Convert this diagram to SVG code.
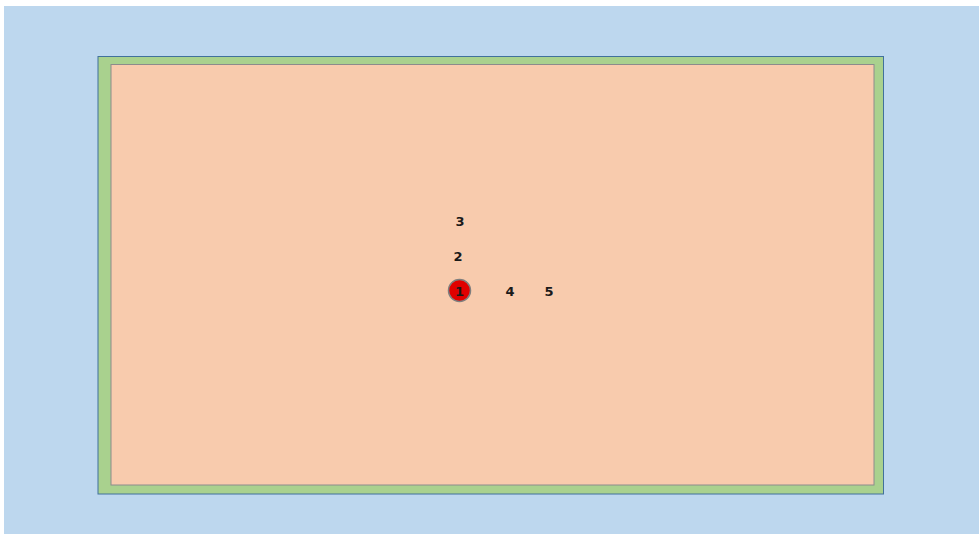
<svg xmlns="http://www.w3.org/2000/svg" width="979" height="534" viewBox="0 0 979 534">
<style>
.lbl{font-family:"DejaVu Sans","Liberation Sans",sans-serif;font-weight:bold;font-size:13px;fill:#1a1a1a;text-anchor:middle;dominant-baseline:central}
</style>
<rect x="0" y="0" width="979" height="534" fill="#ffffff"/>
<rect x="4" y="6" width="975" height="528" fill="#bdd7ee"/>
<g id="outer"><rect x="98" y="56.5" width="785.5" height="437.5" fill="#a9d18e" stroke="#41719c" stroke-width="1"/></g>
<g id="inner"><rect x="111" y="64.5" width="763" height="420.5" fill="#f8cbad" stroke="#8c8c8c" stroke-width="1"/></g>
<g id="n1"><circle cx="459.5" cy="290.5" r="11" fill="#e00000" stroke="#7f7f7f" stroke-width="1.5"/><text class="lbl" x="459.5" y="291">1</text></g>
<g id="n2"><text class="lbl" x="458" y="256">2</text></g>
<g id="n3"><text class="lbl" x="460" y="221">3</text></g>
<g id="n4"><text class="lbl" x="510" y="291">4</text></g>
<g id="n5"><text class="lbl" x="549" y="291">5</text></g>
<g id="connectors"></g>
</svg>
